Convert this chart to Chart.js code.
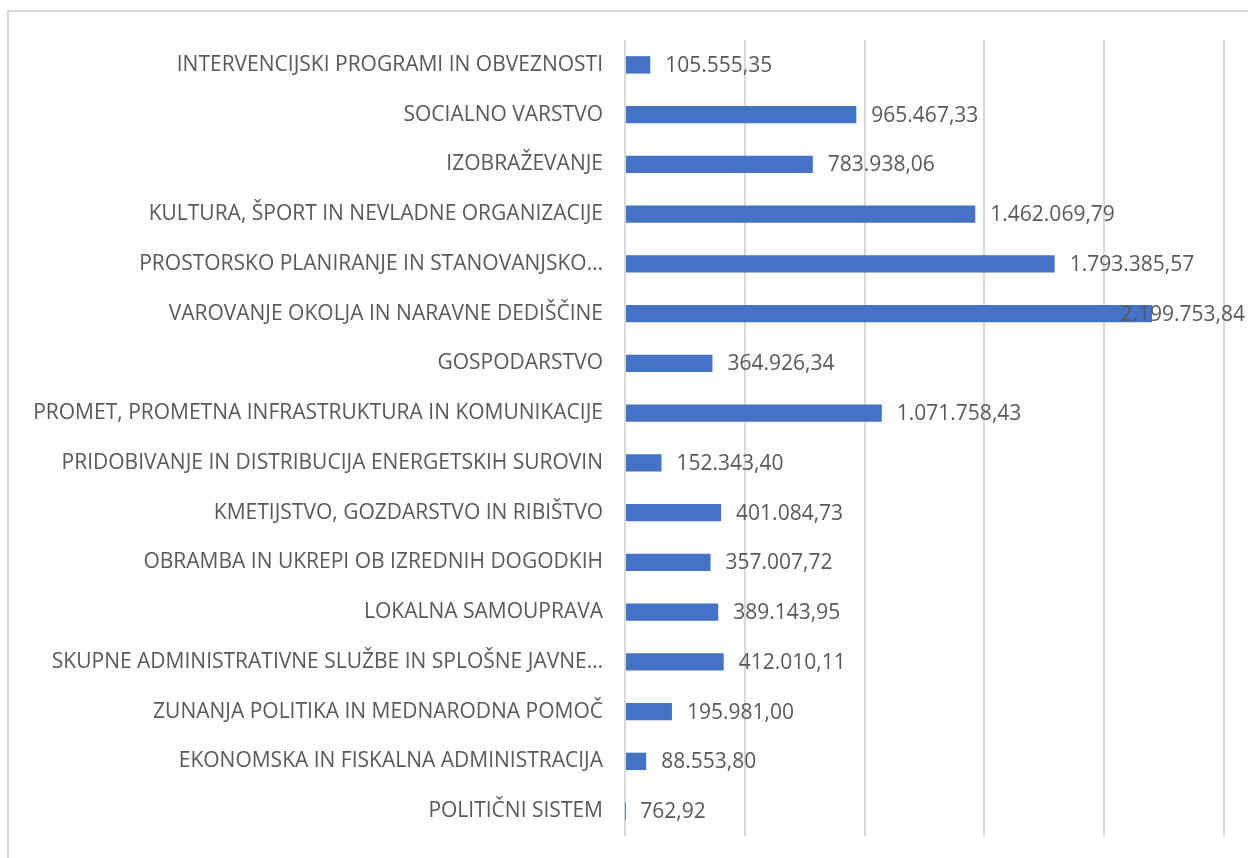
<!DOCTYPE html>
<html lang="sl">
<head>
<meta charset="utf-8">
<title>Odhodki po področjih</title>
<script src="https://cdn.jsdelivr.net/npm/chart.js@4.4.1/dist/chart.umd.min.js"></script>
<style>
  html, body { margin: 0; padding: 0; background: #fff; overflow: hidden; }
  #wrap { position: relative; width: 1248px; height: 858px; }
  #frame {
    position: absolute; left: 7px; top: 10px; right: -10px; bottom: -10px;
    border: 2px solid #d9d9d9; pointer-events: none;
  }
  canvas { position: absolute; left: 0; top: 0; }
</style>
</head>
<body>
<div id="wrap">
  <div id="frame"></div>
  <canvas id="chart" width="1248" height="858"></canvas>
</div>
<script>
// ---- Data (top to bottom, as in the picture) ---------------
const categories = [
  'INTERVENCIJSKI PROGRAMI IN OBVEZNOSTI',
  'SOCIALNO VARSTVO',
  'IZOBRAŽEVANJE',
  'KULTURA, ŠPORT IN NEVLADNE ORGANIZACIJE',
  'PROSTORSKO PLANIRANJE IN STANOVANJSKO…',
  'VAROVANJE OKOLJA IN NARAVNE DEDIŠČINE',
  'GOSPODARSTVO',
  'PROMET, PROMETNA INFRASTRUKTURA IN KOMUNIKACIJE',
  'PRIDOBIVANJE IN DISTRIBUCIJA ENERGETSKIH SUROVIN',
  'KMETIJSTVO, GOZDARSTVO IN RIBIŠTVO',
  'OBRAMBA IN UKREPI OB IZREDNIH DOGODKIH',
  'LOKALNA SAMOUPRAVA',
  'SKUPNE ADMINISTRATIVNE SLUŽBE IN SPLOŠNE JAVNE…',
  'ZUNANJA POLITIKA IN MEDNARODNA POMOČ',
  'EKONOMSKA IN FISKALNA ADMINISTRACIJA',
  'POLITIČNI SISTEM'
];
const values = [
  105555.35, 965467.33, 783938.06, 1462069.79, 1793385.57, 2199753.84,
  364926.34, 1071758.43, 152343.40, 401084.73, 357007.72, 389143.95,
  412010.11, 195981.00, 88553.80, 762.92
];
const axisMax = 2500000;
const axisStep = 500000;

const BAR_BLUE = '#4472C4';
const TEXT_GRAY = '#595959';
const GRID_GRAY = '#d9d9d9';
const FONT = "'Open Sans', 'DejaVu Sans', sans-serif";

// Slovenian style: 1.462.069,79
function fmt(v) {
  const parts = v.toFixed(2).split('.');
  const int = parts[0].replace(/\B(?=(\d{3})+(?!\d))/g, '.');
  return int + ',' + parts[1];
}

// ---- Value labels at the end of each bar ------------------
const valueLabels = {
  id: 'valueLabels',
  afterDatasetsDraw(chart) {
    const ctx = chart.ctx;
    const meta = chart.getDatasetMeta(0);
    ctx.save();
    ctx.font = '21px ' + FONT;
    ctx.fillStyle = TEXT_GRAY;
    ctx.textAlign = 'left';
    ctx.textBaseline = 'middle';
    meta.data.forEach((bar, i) => {
      const txt = fmt(values[i]);
      const w = ctx.measureText(txt).width;
      let x = bar.x + 15;
      if (x + w > chart.width - 3) x = chart.width - 3 - w;
      ctx.fillText(txt, x, bar.y + 1);
    });
    ctx.restore();
  }
};

new Chart(document.getElementById('chart'), {
  type: 'bar',
  data: {
    labels: categories,
    datasets: [{
      data: values,
      backgroundColor: BAR_BLUE,
      barPercentage: 0.35,
      categoryPercentage: 1.0
    }]
  },
  options: {
    indexAxis: 'y',
    responsive: false,
    animation: false,
    layout: { padding: { top: 40, right: 24, bottom: 22, left: 0 } },
    plugins: { legend: { display: false }, tooltip: { enabled: false } },
    scales: {
      x: {
        min: 0,
        max: axisMax,
        grid: { color: GRID_GRAY, lineWidth: 2, drawTicks: false },
        border: { display: false },
        ticks: { display: false, stepSize: axisStep },
        afterFit(scale) { scale.height = 0; }
      },
      y: {
        grid: { display: false, drawTicks: false },
        border: { display: false },
        ticks: {
          color: TEXT_GRAY,
          font: { family: FONT, size: 21 },
          padding: 22,
          autoSkip: false
        },
        afterFit(scale) {
          scale.width = 625;
          scale.paddingTop = 0;
          scale.paddingBottom = 0;
        }
      }
    }
  },
  plugins: [valueLabels]
});
</script>
</body>
</html>
